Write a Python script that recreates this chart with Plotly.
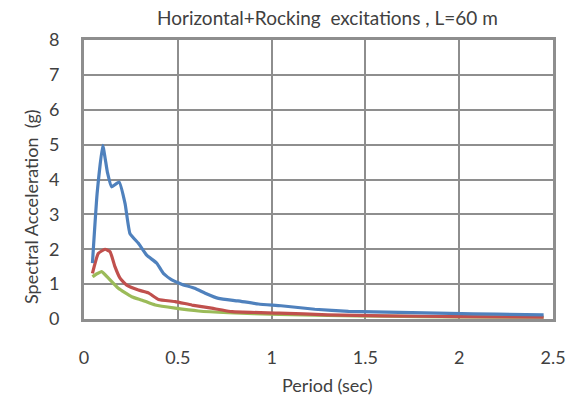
import plotly.graph_objects as go

# Response spectra, horizontal + rocking excitation, L = 60 m
period_blue = [0.045, 0.07, 0.10, 0.125, 0.147, 0.187, 0.219, 0.245, 0.29, 0.334,
               0.388, 0.423, 0.468, 0.52, 0.59, 0.646, 0.717, 0.82, 0.93, 1.05,
               1.23, 1.41, 1.68, 1.95, 2.2, 2.45]
sa_blue = [1.6, 3.6, 4.98, 4.2, 3.79, 3.93, 3.31, 2.45, 2.17, 1.83,
           1.6, 1.31, 1.12, 1.0, 0.88, 0.74, 0.59, 0.52, 0.43, 0.38,
           0.28, 0.22, 0.19, 0.16, 0.14, 0.12]

period_red = [0.045, 0.076, 0.112, 0.139, 0.165, 0.192, 0.228, 0.29, 0.343, 0.397,
              0.486, 0.575, 0.68, 0.79, 1.04, 1.3, 1.6, 2.0, 2.45]
sa_red = [1.31, 1.88, 2.0, 1.93, 1.5, 1.17, 0.97, 0.83, 0.75, 0.56,
          0.50, 0.40, 0.31, 0.21, 0.17, 0.12, 0.09, 0.07, 0.05]

period_green = [0.045, 0.067, 0.094, 0.13, 0.183, 0.254, 0.31, 0.38, 0.486, 0.61,
                0.77, 1.04, 1.3, 1.6, 2.0, 2.45]
sa_green = [1.21, 1.29, 1.36, 1.17, 0.88, 0.64, 0.54, 0.40, 0.31, 0.23,
            0.18, 0.13, 0.1, 0.08, 0.06, 0.05]

x_ticks = [0, 0.5, 1, 1.5, 2, 2.5]
x_labels = ["0", "0.5", "1", "1.5", "2", "2.5"]
y_ticks = [0, 1, 2, 3, 4, 5, 6, 7, 8]

FONT = "Lato"
TEXT = "#404040"
GRID = "#8e8e8e"

W, H = 577, 405
L, R, T, B = 84, 24, 40, 86

fig = go.Figure()
for xs, ys, color in [(period_green, sa_green, "#9BBB59"),
                      (period_red, sa_red, "#C0504D"),
                      (period_blue, sa_blue, "#4F81BD")]:
    fig.add_trace(go.Scatter(x=xs, y=ys, mode="lines",
                             line=dict(color=color, width=3.2, shape="spline", smoothing=0.4),
                             showlegend=False, hoverinfo="skip"))

axis_common = dict(showgrid=True, gridcolor=GRID, gridwidth=2,
                   showline=True, linecolor=GRID, linewidth=3, mirror=True,
                   zeroline=False, ticks="",
                   tickfont=dict(family=FONT, size=18, color=TEXT))

fig.update_xaxes(range=[0, 2.5], tickvals=x_ticks, ticktext=x_labels,
                 ticklabelstandoff=20, **axis_common)
fig.update_yaxes(range=[0, 8], tickvals=y_ticks, ticklabelstandoff=18, **axis_common)

fig.update_layout(
    width=W, height=H,
    margin=dict(l=L, r=R, t=T, b=B),
    paper_bgcolor="white", plot_bgcolor="white",
)

# Convert pixel positions to paper fractions for the text labels
pw, ph = W - L - R, H - T - B


def px(x):
    return (x - L) / pw


def py(y):
    return (H - B - y) / ph


fig.add_annotation(text="Horizontal+Rocking  excitations , L=60 m", x=px(327), y=py(17),
                   xref="paper", yref="paper", showarrow=False, xanchor="center", yanchor="middle",
                   font=dict(family=FONT, size=19, color=TEXT))
fig.add_annotation(text="Period (sec)", x=px(327), y=py(385),
                   xref="paper", yref="paper", showarrow=False, xanchor="center", yanchor="middle",
                   font=dict(family=FONT, size=18, color=TEXT))
fig.add_annotation(text="Spectral Acceleration  (g)", x=px(31), y=py(207), textangle=-90,
                   xref="paper", yref="paper", showarrow=False, xanchor="center", yanchor="middle",
                   font=dict(family=FONT, size=18, color=TEXT))

fig.write_html("out.html")
